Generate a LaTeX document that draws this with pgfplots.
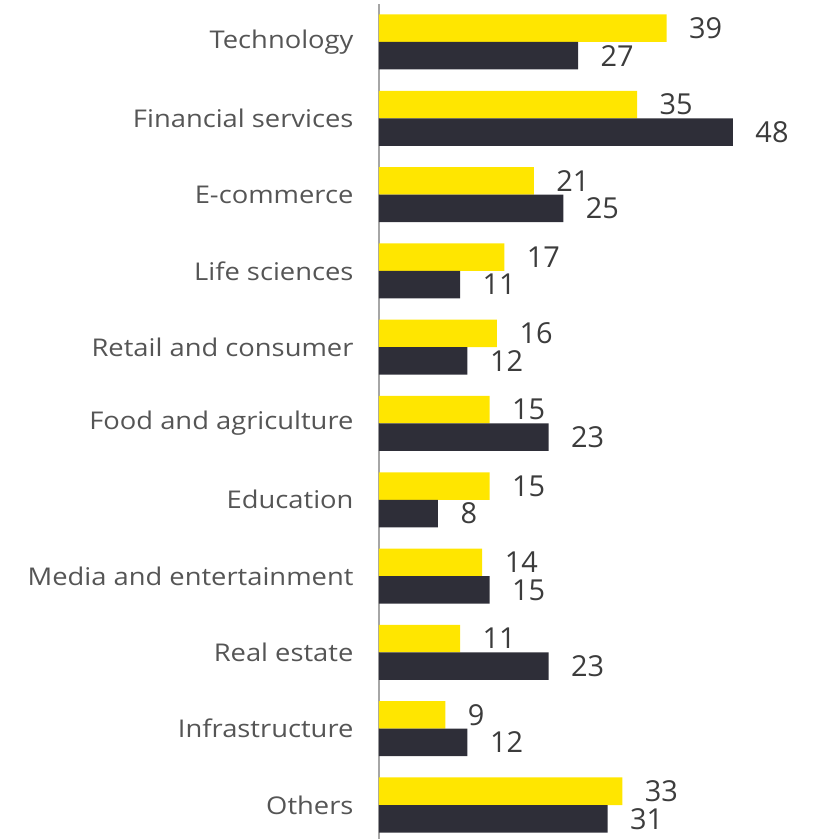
\documentclass[border=0pt]{standalone}
\usepackage{pgfplots}
\pgfplotsset{compat=1.18}
\usepackage{fontspec}
\setmainfont{Open Sans}
\newfontfamily\labfont[FakeStretch=1.12]{Open Sans}
\definecolor{eyyellow}{HTML}{FFE600}
\definecolor{eydark}{HTML}{2E2E38}
\definecolor{labgray}{HTML}{555555}
\definecolor{numgray}{HTML}{3C3C3C}
\begin{document}
\begin{tikzpicture}[x=1bp,y=1bp]
\begin{axis}[
  name=ax,
  at={(0,0)}, anchor=south west,
  scale only axis,
  width=405.6bp, height=835bp,
  xmin=0, xmax=55,
  ymin=-0.4456, ymax=10.498,
  xbar, bar width=27.5bp,
  axis x line=none,
  axis y line*=left,
  y axis line style={draw=gray!70, line width=1.2pt, -},
  ytick={0,...,10},
  yticklabels={Others,Infrastructure,Real estate,Media and entertainment,Education,Food and agriculture,Retail and consumer,Life sciences,E-commerce,Financial services,Technology},
  yticklabel style={font=\labfont\fontsize{24.5}{30}\selectfont, text=labgray, xshift=-22bp},
  major tick length=0pt,
  clip=false,
  /pgf/number format/assume math mode=true,
  nodes near coords,
  every node near coord/.append style={font=\fontsize{29}{34}\selectfont, text=numgray, anchor=west, xshift=19bp},
]
\addplot[fill=eyyellow, draw=none, bar shift=13.75bp] coordinates {
(33,0) (9,1) (11,2) (14,3) (15,4) (15,5) (16,6) (17,7) (21,8) (35,9) (39,10)};
\addplot[fill=eydark, draw=none, bar shift=-13.75bp] coordinates {
(31,0) (12,1) (23,2) (15,3) (8,4) (23,5) (12,6) (11,7) (25,8) (48,9) (27,10)};
\end{axis}
\pgfresetboundingbox
\path[use as bounding box] (-379bp,0) rectangle (435bp,839bp);
\end{tikzpicture}
\end{document}
